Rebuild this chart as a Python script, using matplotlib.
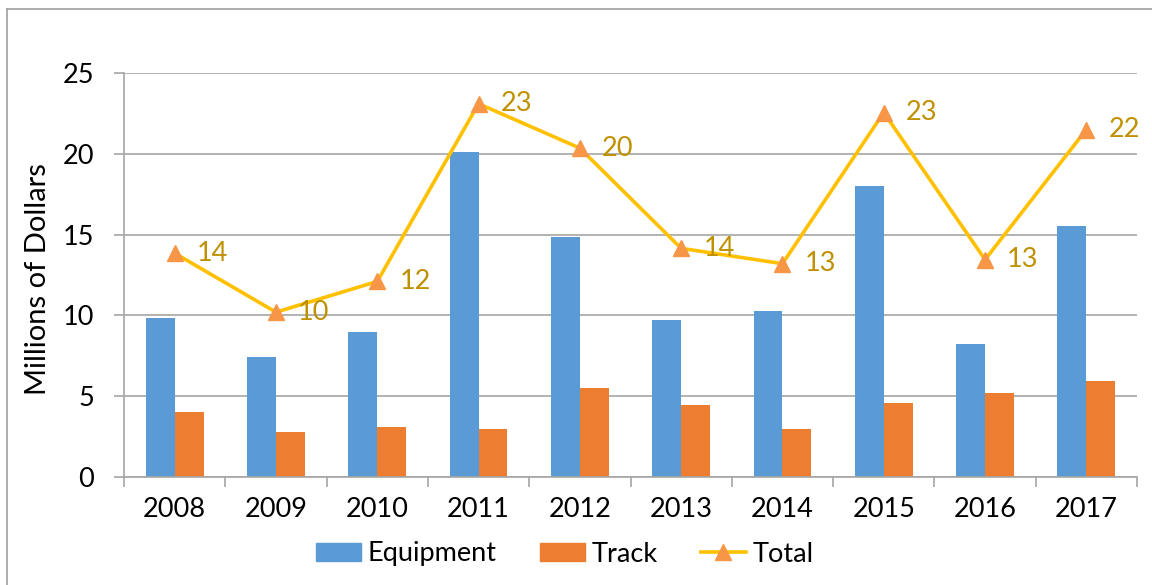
import matplotlib
matplotlib.use("Agg")
import matplotlib.pyplot as plt
from matplotlib.lines import Line2D
import numpy as np

years = ["2008", "2009", "2010", "2011", "2012", "2013", "2014", "2015", "2016", "2017"]
equipment = [9.85, 7.4, 9.0, 20.1, 14.85, 9.7, 10.25, 18.0, 8.25, 15.55]
track = [4.0, 2.8, 3.1, 3.0, 5.5, 4.45, 2.95, 4.55, 5.2, 5.95]
total = [13.85, 10.2, 12.1, 23.1, 20.35, 14.15, 13.2, 22.55, 13.45, 21.5]
total_labels = ["14", "10", "12", "23", "20", "14", "13", "23", "13", "22"]

plt.rcParams['font.family'] = ['Lato', 'DejaVu Sans']

W, H = 1152, 585
fig = plt.figure(figsize=(W / 100, H / 100), dpi=100)
ax = fig.add_axes([124 / W, 1 - 477 / H, (1137 - 124) / W, (477 - 73) / H])

x = np.arange(len(years))
bw = 0.285
blue = "#5B9BD5"
orange = "#ED7D31"
gold = "#FFC000"
mk = "#F79646"
grid_c = "#A6A6A6"
fs = 19.5

ax.bar(x - bw / 2, equipment, width=bw, color=blue, zorder=2, label="Equipment")
ax.bar(x + bw / 2, track, width=bw, color=orange, zorder=2, label="Track")
ax.plot(x, total, color=gold, lw=2.6, marker="^", markersize=11,
        markerfacecolor=mk, markeredgecolor=mk, zorder=3, label="Total")

for xi, yi, lab in zip(x, total, total_labels):
    ax.annotate(lab, (xi, yi), xytext=(16, 0), textcoords="offset points",
                ha="left", va="center", fontsize=fs, color="#BF9000", zorder=4)

ax.set_xlim(-0.5, len(years) - 0.5)
ax.set_ylim(0, 25)
ax.set_yticks([0, 5, 10, 15, 20, 25])
ax.yaxis.grid(True, color=grid_c, lw=1.2, zorder=0)
ax.set_axisbelow(True)

ax.set_xticks(np.arange(-0.5, len(years), 1.0))
ax.set_xticklabels([])
ax.set_xticks(x, minor=True)
ax.set_xticklabels(years, minor=True)
ax.tick_params(axis="x", which="major", length=7, color=grid_c, width=1.2)
ax.tick_params(axis="x", which="minor", length=0, pad=14.5, labelsize=fs)
ax.tick_params(axis="y", length=7.5, color=grid_c, width=1.2, labelsize=fs, pad=14)

for s in ["top", "right"]:
    ax.spines[s].set_visible(False)
for s in ["left", "bottom"]:
    ax.spines[s].set_color(grid_c)
    ax.spines[s].set_linewidth(1.2)

ax.set_ylabel("Millions of Dollars", fontsize=21)
ax.yaxis.set_label_coords((51 - 124) / (1137 - 124), 0.49)

handles = [
    plt.Rectangle((0, 0), 1, 1, color=blue),
    plt.Rectangle((0, 0), 1, 1, color=orange),
    Line2D([0], [0], color=gold, lw=2.6, marker="^", markersize=11,
           markerfacecolor=mk, markeredgecolor=mk),
]
fig.legend(handles, ["Equipment", "Track", "Total"], loc="center",
           bbox_to_anchor=(565 / W, 1 - 554 / H), ncol=3, frameon=False,
           fontsize=fs, handlelength=1.65, handleheight=0.65, columnspacing=1.6,
           handletextpad=0.25, borderpad=0.2)

# outer chart border (left and top visible)
fig.add_artist(Line2D([7 / W, 7 / W], [0, 1 - 9 / H], color="#A0A0A0", lw=1.2,
                      transform=fig.transFigure))
fig.add_artist(Line2D([7 / W, 1], [1 - 9 / H, 1 - 9 / H], color="#A0A0A0", lw=1.2,
                      transform=fig.transFigure))

fig.savefig("out.png", dpi=100)
